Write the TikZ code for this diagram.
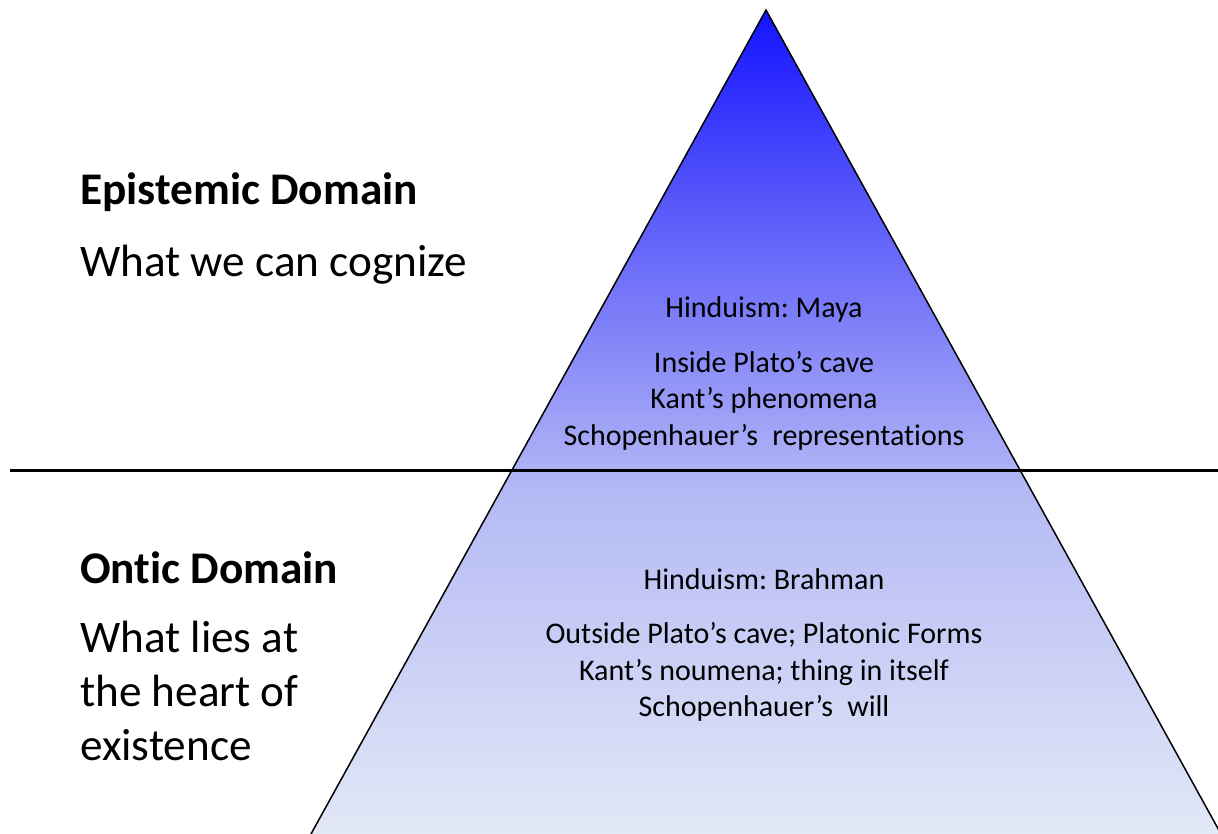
\documentclass[tikz,border=0pt]{standalone}
\usepackage{fontspec}
\setmainfont[Ligatures={NoCommon}]{Carlito}
\frenchspacing
\definecolor{ctop}{RGB}{20,20,255}
\definecolor{cseventy}{RGB}{40,40,255}
\definecolor{ctwo}{RGB}{90,90,250}
\definecolor{cfour}{RGB}{180,185,245}
\definecolor{cbot}{RGB}{226,232,246}
\pgfdeclareverticalshading{trishade}{100bp}{color(0bp)=(cbot); color(25bp)=(cbot); color(45.87bp)=(cfour); color(62.86bp)=(ctwo); color(71.36bp)=(cseventy); color(75bp)=(ctop); color(100bp)=(ctop)}
\begin{document}
\frenchspacing
\begin{tikzpicture}[x=1pt,y=-1pt,
  title/.style={inner sep=0pt, anchor=base west, font=\bfseries\fontsize{45.3}{54}\selectfont},
  sub/.style={inner sep=0pt, anchor=base west, font=\fontsize{45.2}{54}\selectfont},
  inner/.style={inner sep=0pt, anchor=base, font=\fontsize{30}{36}\selectfont},
  edge/.style={draw=black, line width=1.5pt},
  divider/.style={draw=black, line width=3pt}]
\useasboundingbox (0,0) rectangle (1218,834);
% triangle
\coordinate (apex) at (766,10);
\coordinate (bl) at (311,834);
\coordinate (br) at (1221,834);
\shade[shading=trishade] (apex) -- (bl) -- (br) -- cycle;
\draw[edge, line join=miter] (bl) -- (apex) -- (br);
% divider
\coordinate (dl) at (10,470);
\coordinate (dr) at (1218,470);
\draw[divider] (dl) -- (dr);
% left texts
\node[title] (epi) at (80,205) {Epistemic Domain};
\node[sub] (epis) at (80,277) {What we can cognize};
\node[title] (ont) at (80,583) {Ontic Domain};
\node[sub] (onta) at (80,652) {What lies at};
\node[sub] (ontb) at (80,706) {the heart of};
\node[sub] (ontc) at (80,760) {existence};
% inner texts upper
\node[inner] (u1) at (764,317) {Hinduism: Maya};
\node[inner] (u2) at (764,372) {Inside Plato’s cave};
\node[inner] (u3) at (764,408) {Kant’s phenomena};
\node[inner] (u4) at (764,445) {Schopenhauer’s\hspace{0.25em} representations};
% inner texts lower
\node[inner] (l1) at (764,589) {Hinduism: Brahman};
\node[inner] (l2) at (764,643) {Outside Plato’s cave; Platonic Forms};
\node[inner] (l3) at (764,680) {Kant’s noumena; thing in itself};
\node[inner] (l4) at (764,716) {Schopenhauer’s\hspace{0.25em} will};
\end{tikzpicture}
\end{document}
